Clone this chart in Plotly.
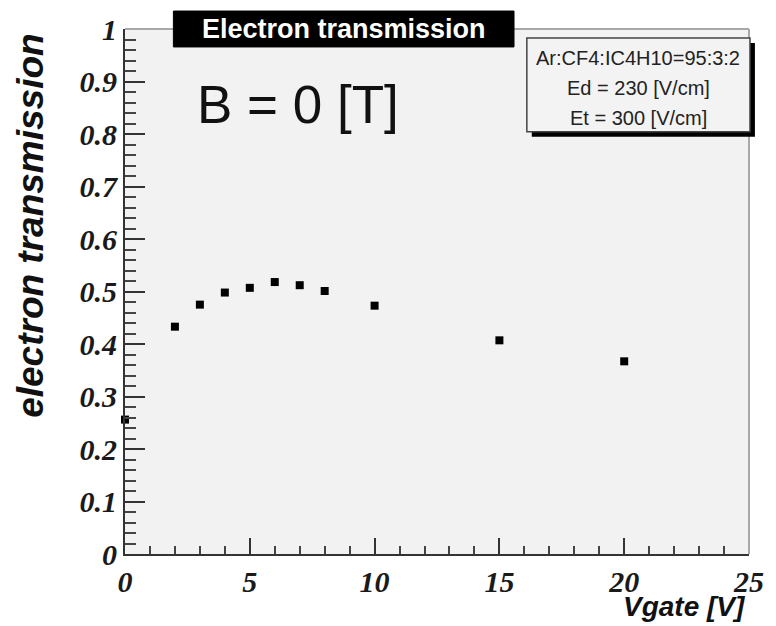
import plotly.graph_objects as go

# Electron transmission vs gate voltage, B = 0 T
vgate = [0, 2, 3, 4, 5, 6, 7, 8, 10, 15, 20]
transmission = [0.256, 0.433, 0.475, 0.498, 0.507, 0.518, 0.512, 0.501, 0.473, 0.407, 0.367]

title_text = "Electron transmission"
field_text = "B = 0 [T]"
info_lines = ["Ar:CF4:IC4H10=95:3:2", "Ed = 230 [V/cm]", "Et = 300 [V/cm]"]
x_title = "Vgate [V]"
y_title = "electron transmission"

W, H = 776, 626
L, R, T, B = 125, 19, 28, 72
PW, PH = W - L - R, H - T - B


def px(xp):
    return (xp - L) / PW


def py(yp):
    return (H - B - yp) / PH


tick_font = dict(family="Liberation Serif", size=30, color="#1a1a1a", weight="bold", style="italic")

fig = go.Figure()
fig.add_trace(go.Scatter(
    x=vgate, y=transmission, mode="markers",
    marker=dict(symbol="square", size=8, color="black", line=dict(width=0)),
    cliponaxis=False, showlegend=False,
))

fig.update_layout(
    width=W, height=H,
    margin=dict(l=L, r=R, t=T, b=B),
    paper_bgcolor="white", plot_bgcolor="#f2f2f2",
    showlegend=False,
    xaxis=dict(
        range=[0, 25], dtick=5, tick0=0, showgrid=False, zeroline=False,
        showline=True, linecolor="#333", linewidth=2,
        ticks="inside", ticklen=16, tickwidth=2, tickcolor="#333",
        minor=dict(dtick=1, ticks="inside", ticklen=8, tickwidth=2, tickcolor="#444"),
        tickfont=tick_font, ticklabelstandoff=0,
    ),
    yaxis=dict(
        range=[0, 1], dtick=0.1, tick0=0, showgrid=False, zeroline=False,
        showline=True, linecolor="#333", linewidth=2,
        ticks="inside", ticklen=20, tickwidth=2, tickcolor="#333",
        minor=dict(dtick=0.02, ticks="inside", ticklen=11, tickwidth=2, tickcolor="#444"),
        tickfont=tick_font,
    ),
)

shapes = [
    # top and right frame
    dict(type="line", xref="paper", yref="paper", x0=0, x1=1, y0=1, y1=1,
         line=dict(color="#a8a8a8", width=2)),
    dict(type="line", xref="paper", yref="paper", x0=1, x1=1, y0=0, y1=1,
         line=dict(color="#a8a8a8", width=2)),
    # title box
    dict(type="rect", xref="paper", yref="paper",
         x0=px(174), x1=px(519), y0=py(46), y1=py(10),
         fillcolor="black", line=dict(color="black", width=1)),
    # info box shadow and body
    dict(type="rect", xref="paper", yref="paper",
         x0=px(537), x1=px(763), y0=py(136), y1=py(42),
         fillcolor="black", line=dict(width=0)),
    dict(type="rect", xref="paper", yref="paper",
         x0=px(532), x1=px(758), y0=py(131), y1=py(37),
         fillcolor="#f3f3f3", line=dict(color="#444", width=1.5)),
]
fig.update_layout(shapes=shapes)

annotations = [
    dict(text=title_text, x=px(346.5), y=py(28), xanchor="center", yanchor="middle",
         font=dict(family="Liberation Sans", size=27, color="white", weight="bold")),
    dict(text=field_text, x=px(196), y=py(104), xanchor="left", yanchor="middle",
         font=dict(family="Liberation Sans", size=53, color="#111")),
    dict(text=x_title, x=px(756), y=py(607), xanchor="right", yanchor="middle",
         font=dict(family="Liberation Sans", size=28, color="#111", weight="bold", style="italic")),
    dict(text=y_title, x=px(29), y=py(225), xanchor="center", yanchor="middle", textangle=-90,
         font=dict(family="Liberation Sans", size=37, color="#111", weight="bold", style="italic")),
]
for i, line in enumerate(info_lines):
    annotations.append(dict(
        text=line, x=px(645), y=py(57 + 30 * i), xanchor="center", yanchor="middle",
        font=dict(family="Liberation Sans", size=20, color="#222"),
    ))
for a in annotations:
    a.update(xref="paper", yref="paper", showarrow=False)
fig.update_layout(annotations=annotations)

fig.write_html("out.html")
